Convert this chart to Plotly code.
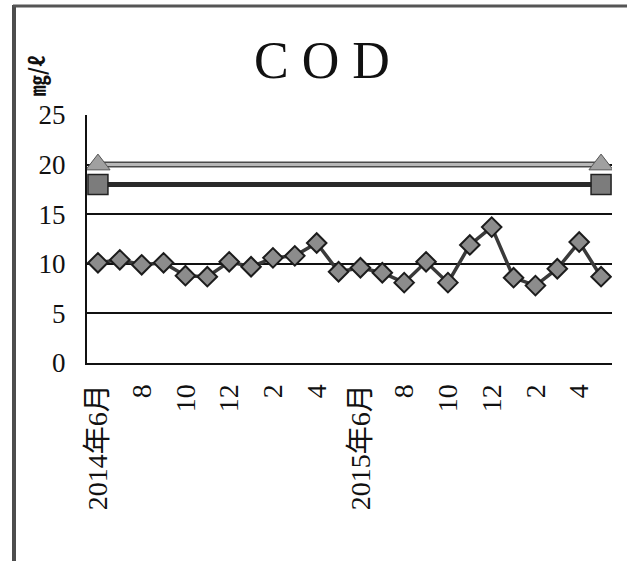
import plotly.graph_objects as go

# Monthly COD readings, June 2014 - May 2016 (mg/l)
months = [
    "2014-06", "2014-07", "2014-08", "2014-09", "2014-10", "2014-11",
    "2014-12", "2015-01", "2015-02", "2015-03", "2015-04", "2015-05",
    "2015-06", "2015-07", "2015-08", "2015-09", "2015-10", "2015-11",
    "2015-12", "2016-01", "2016-02", "2016-03", "2016-04", "2016-05",
]
cod = [
    10.1, 10.4, 9.9, 10.1, 8.8, 8.7, 10.2, 9.7, 10.6, 10.8, 12.1, 9.2,
    9.6, 9.1, 8.1, 10.2, 8.1, 11.9, 13.7, 8.6, 7.8, 9.5, 12.2, 8.7,
]
# Reference levels drawn as horizontal lines
limit_upper = 20
limit_lower = 18

tick_positions = list(range(0, 24, 2))
tick_labels = ["2014年6月", "8", "10", "12", "2", "4",
               "2015年6月", "8", "10", "12", "2", "4"]

y_ticks = [0, 5, 10, 15, 20, 25]

W, H = 627, 561
L, R, T, B = 87, 15, 115, 198
pw, ph = W - L - R, H - T - B


def px(x):
    return (x - L) / pw


def py(y):
    return (H - B - y) / ph


serif = "Liberation Serif, Noto Sans CJK JP, serif"
idx = list(range(len(months)))

fig = go.Figure()

# Upper reference line: dark edge with light core
fig.add_trace(go.Scatter(
    x=[idx[0], idx[-1]], y=[limit_upper] * 2, mode="lines",
    line=dict(color="#4a4a4a", width=6), hoverinfo="skip", showlegend=False))
fig.add_trace(go.Scatter(
    x=[idx[0], idx[-1]], y=[limit_upper] * 2, mode="lines+markers",
    line=dict(color="#b8b8b8", width=3),
    marker=dict(symbol="triangle-up", size=21, color="#a0a0a0",
                line=dict(color="#555555", width=1)),
    name="upper", showlegend=False))

# Lower reference line
fig.add_trace(go.Scatter(
    x=[idx[0], idx[-1]], y=[limit_lower] * 2, mode="lines+markers",
    line=dict(color="#2a2a2a", width=5),
    marker=dict(symbol="square", size=20, color="#7c7c7c",
                line=dict(color="#222222", width=1.5)),
    name="lower", showlegend=False))

# COD series
fig.add_trace(go.Scatter(
    x=idx, y=cod, mode="lines+markers",
    line=dict(color="#3a3a3a", width=3.5),
    marker=dict(symbol="diamond", size=15, color="#8c8c8c",
                line=dict(color="#1c1c1c", width=2)),
    name="COD", showlegend=False))

fig.update_layout(
    width=W, height=H,
    margin=dict(l=L, r=R, t=T, b=B),
    paper_bgcolor="white", plot_bgcolor="white",
    font=dict(family=serif, color="#111111"),
    xaxis=dict(
        range=[-0.5, len(months) - 0.5],
        tickvals=tick_positions, ticktext=tick_labels,
        tickangle=-90, tickfont=dict(size=28, family=serif, color="#111111"),
        showgrid=False, zeroline=False,
        showline=True, linecolor="#111111", linewidth=2,
        ticks="", ticklabelstandoff=8,
    ),
    yaxis=dict(
        range=[0, 25], tickvals=y_ticks,
        tickfont=dict(size=27, family=serif, color="#111111"),
        showgrid=True, gridcolor="#111111", gridwidth=1.5,
        zeroline=False,
        showline=True, linecolor="#111111", linewidth=2,
        ticks="", ticklabelstandoff=14,
    ),
    annotations=[
        dict(text="C O D", x=px(322), y=py(60), xref="paper", yref="paper",
             showarrow=False, xanchor="center", yanchor="middle",
             font=dict(size=52, family=serif, color="#111111")),
        dict(text="<b>㎎/ℓ</b>", x=px(36), y=py(76), xref="paper", yref="paper",
             showarrow=False, xanchor="center", yanchor="middle", textangle=-90,
             font=dict(size=21, family="Noto Sans CJK JP, sans-serif",
                       color="#111111")),
    ],
    shapes=[
        # outer frame: left and top edges
        dict(type="line", xref="paper", yref="paper",
             x0=px(14), x1=px(14), y0=py(5), y1=py(H),
             line=dict(color="#4d4d4d", width=4)),
        dict(type="line", xref="paper", yref="paper",
             x0=px(13), x1=px(W), y0=py(6), y1=py(6),
             line=dict(color="#555555", width=3)),
    ],
)

fig.write_html("out.html")
